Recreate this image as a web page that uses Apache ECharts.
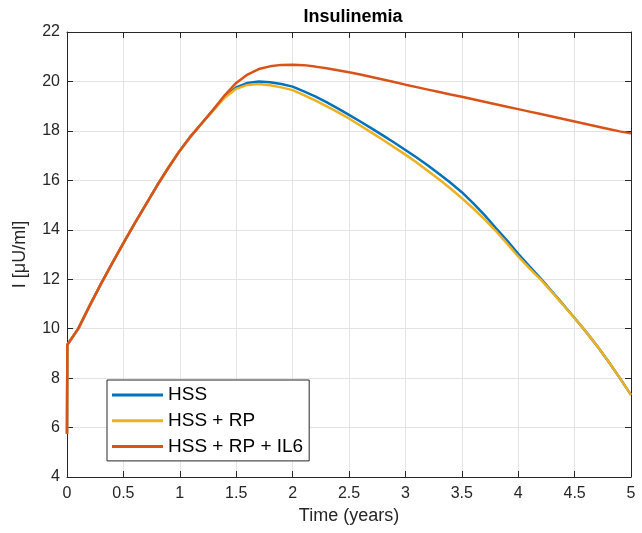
<!DOCTYPE html>
<html>
<head>
<meta charset="utf-8">
<script src="https://cdn.jsdelivr.net/npm/echarts@6/dist/echarts.min.js"></script>
<style>
html,body{margin:0;padding:0;background:#fff;}
#chart{width:642px;height:533px;}
</style>
</head>
<body>
<div id="chart"></div>
<script>
// Time (years)
const times = [0, 0.003, 0.1, 0.2, 0.3, 0.4, 0.5, 0.6, 0.7, 0.8, 0.9, 1.0,
  1.1, 1.2, 1.3, 1.4, 1.5, 1.6, 1.7, 1.8, 1.9, 2.0,
  2.1, 2.2, 2.3, 2.4, 2.5, 2.6, 2.7, 2.8, 2.9, 3.0,
  3.1, 3.2, 3.3, 3.4, 3.5, 3.6, 3.7, 3.8, 3.9, 4.0,
  4.1, 4.2, 4.3, 4.4, 4.5, 4.6, 4.7, 4.8, 4.9, 5.0];
const hss = [5.75, 9.35, 10.0, 10.92, 11.8, 12.64, 13.46, 14.26, 15.03, 15.8, 16.52, 17.2,
  17.8, 18.33, 18.86, 19.38, 19.76, 19.94, 20.0, 19.97, 19.9, 19.79,
  19.6, 19.4, 19.16, 18.91, 18.65, 18.38, 18.1, 17.82, 17.53, 17.23,
  16.92, 16.6, 16.26, 15.9, 15.52, 15.08, 14.6, 14.08, 13.57, 13.03,
  12.52, 12.03, 11.5, 10.97, 10.43, 9.88, 9.3, 8.67, 8.01, 7.32];
const hssRp = [5.75, 9.35, 10.0, 10.92, 11.8, 12.64, 13.46, 14.26, 15.03, 15.8, 16.52, 17.2,
  17.8, 18.33, 18.85, 19.35, 19.7, 19.86, 19.9, 19.85, 19.76, 19.65,
  19.45, 19.23, 19.0, 18.76, 18.5, 18.22, 17.93, 17.64, 17.34, 17.04,
  16.72, 16.38, 16.03, 15.67, 15.28, 14.87, 14.43, 13.96, 13.45, 12.92,
  12.44, 11.98, 11.48, 10.95, 10.42, 9.88, 9.3, 8.67, 8.01, 7.32];
const hssRpIl6 = [5.75, 9.35, 10.0, 10.92, 11.8, 12.64, 13.46, 14.26, 15.03, 15.8, 16.52, 17.2,
  17.8, 18.34, 18.88, 19.45, 19.94, 20.28, 20.5, 20.61, 20.67, 20.68,
  20.66, 20.6, 20.53, 20.45, 20.37, 20.28, 20.18, 20.08, 19.98, 19.87,
  19.77, 19.67, 19.57, 19.47, 19.38, 19.28, 19.18, 19.08, 18.98, 18.88,
  18.78, 18.68, 18.58, 18.48, 18.38, 18.28, 18.18, 18.08, 17.98, 17.9];
const seriesNames = ['HSS', 'HSS + RP', 'HSS + RP + IL6'];
const seriesColors = ['#0072BD', '#EDB120', '#D95319'];

const pairs = arr => times.map((t, i) => [t, arr[i]]);
const values = [hss, hssRp, hssRpIl6];

const FONT = 'Liberation Sans, Helvetica, Arial, sans-serif';
const AX = '#262626';
const GRID = '#e3e3e3';

const chart = echarts.init(document.getElementById('chart'), null, {renderer: 'canvas'});
chart.setOption({
  animation: false,
  backgroundColor: '#fff',
  title: {
    text: 'Insulinemia', left: 353, top: 8, textAlign: 'center', padding: 0,
    textStyle: {fontFamily: FONT, fontSize: 18, fontWeight: 'bold', color: '#000'}
  },
  legend: {
    orient: 'vertical', left: 107, top: 380,
    data: seriesNames,
    backgroundColor: '#fff', borderColor: AX, borderWidth: 1,
    padding: [5.5, 6, 5, 5],
    itemWidth: 51, itemHeight: 3, itemGap: 6.7,
    icon: 'rect',
    textStyle: {fontFamily: FONT, fontSize: 19, lineHeight: 19, color: '#000'}
  },
  grid: {left: 67, right: 11, top: 32, bottom: 56, containLabel: false},
  xAxis: [{
    type: 'value', min: 0, max: 5, interval: 0.5,
    name: 'Time (years)', nameLocation: 'middle', nameGap: 30,
    nameTextStyle: {fontFamily: FONT, fontSize: 18, color: AX},
    axisLine: {show: true, onZero: false, lineStyle: {color: AX, width: 1}},
    axisTick: {show: true, inside: true, length: 6, lineStyle: {color: AX}},
    axisLabel: {fontFamily: FONT, fontSize: 16, color: AX, margin: 9},
    splitLine: {show: true, lineStyle: {color: GRID, width: 1}}
  }, {
    type: 'value', position: 'top', min: 0, max: 5, interval: 0.5,
    axisLine: {show: true, onZero: false, lineStyle: {color: AX, width: 1}},
    axisTick: {show: true, inside: true, length: 6, lineStyle: {color: AX}},
    axisLabel: {show: false}, splitLine: {show: false}
  }],
  yAxis: [{
    type: 'value', min: 4, max: 22, interval: 2,
    name: 'I [μU/ml]', nameLocation: 'middle', nameGap: 38, nameRotate: 90,
    nameTextStyle: {fontFamily: FONT, fontSize: 18, color: AX},
    axisLine: {show: true, onZero: false, lineStyle: {color: AX, width: 1}},
    axisTick: {show: true, inside: true, length: 6, lineStyle: {color: AX}},
    axisLabel: {fontFamily: FONT, fontSize: 16, color: AX, margin: 7},
    splitLine: {show: true, lineStyle: {color: GRID, width: 1}}
  }, {
    type: 'value', position: 'right', min: 4, max: 22, interval: 2,
    axisLine: {show: true, onZero: false, lineStyle: {color: AX, width: 1}},
    axisTick: {show: true, inside: true, length: 6, lineStyle: {color: AX}},
    axisLabel: {show: false}, splitLine: {show: false}
  }],
  series: values.map((v, i) => ({
    name: seriesNames[i], type: 'line', data: pairs(v),
    xAxisIndex: 0, yAxisIndex: 0,
    showSymbol: false, symbol: 'none',
    lineStyle: {color: seriesColors[i], width: 2.5},
    itemStyle: {color: seriesColors[i]},
    z: 2 + i
  }))
});
</script>
</body>
</html>
